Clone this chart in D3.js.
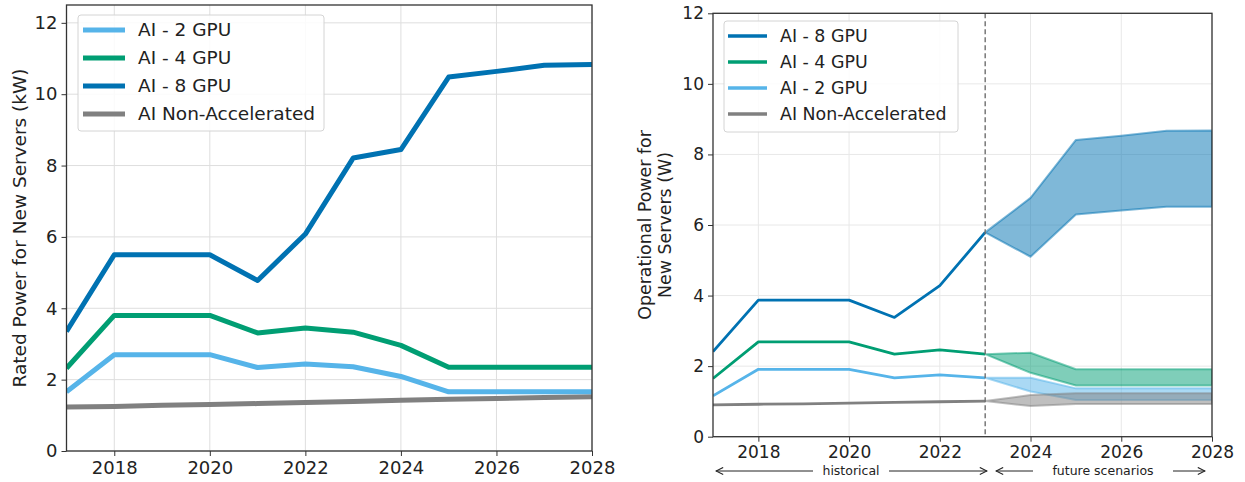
<!DOCTYPE html>
<html>
<head>
<meta charset="utf-8">
<script src="https://cdn.jsdelivr.net/npm/d3@7"></script>
<style>
  body { margin: 0; background: #fff; }
  text { font-family: "DejaVu Sans", sans-serif; fill: #222; }
</style>
</head>
<body>
<script>
// Width and height
var w = 1245;
var h = 482;

// data, left panel (rated power, kW)
var years = [2017, 2018, 2019, 2020, 2021, 2022, 2023, 2024, 2025, 2026, 2027, 2028];
var ratedGpu2 = [1.66, 2.70, 2.70, 2.70, 2.34, 2.44, 2.36, 2.09, 1.66, 1.66, 1.66, 1.66];
var ratedGpu4 = [2.32, 3.80, 3.80, 3.80, 3.31, 3.45, 3.33, 2.96, 2.35, 2.35, 2.35, 2.35];
var ratedGpu8 = [3.35, 5.50, 5.50, 5.50, 4.78, 6.08, 8.21, 8.45, 10.48, 10.64, 10.81, 10.83];
var ratedNonAcc = [1.23, 1.25, 1.28, 1.30, 1.33, 1.36, 1.39, 1.42, 1.45, 1.47, 1.50, 1.52];

// data, right panel (operational power)
var histYears = [2017, 2018, 2019, 2020, 2021, 2022, 2023];
var opGpu8 = [2.41, 3.87, 3.87, 3.87, 3.38, 4.28, 5.79];
var opGpu4 = [1.65, 2.69, 2.69, 2.69, 2.34, 2.46, 2.34];
var opGpu2 = [1.16, 1.91, 1.91, 1.91, 1.67, 1.75, 1.67];
var opNonAcc = [0.90, 0.92, 0.93, 0.95, 0.97, 0.99, 1.01];

var futureYears = [2023, 2024, 2025, 2026, 2027, 2028];
var opGpu8High = [5.79, 6.77, 8.41, 8.53, 8.67, 8.68];
var opGpu8Low = [5.79, 5.10, 6.30, 6.41, 6.52, 6.52];
var opGpu4High = [2.34, 2.38, 1.91, 1.91, 1.91, 1.91];
var opGpu4Low = [2.34, 1.81, 1.45, 1.45, 1.45, 1.45];
var opGpu2High = [1.67, 1.67, 1.37, 1.37, 1.37, 1.37];
var opGpu2Low = [1.67, 1.28, 1.04, 1.04, 1.04, 1.04];
var opNonAccHigh = [1.01, 1.18, 1.23, 1.23, 1.23, 1.23];
var opNonAccLow = [1.01, 0.87, 0.93, 0.93, 0.93, 0.93];

var xTicks = [2018, 2020, 2022, 2024, 2026, 2028];
var yTicks = [0, 2, 4, 6, 8, 10, 12];

var colors = {g2: "#56B4E9", g4: "#009E73", g8: "#0072B2", na: "#808080"};

var svg = d3.select("body")
            .append("svg")
            .attr("width", w)
            .attr("height", h);

function drawAxes(g, x, y, fs, tickLabelDy, gridColor) {
    var x0 = x.range()[0], x1 = x.range()[1];
    var y0 = y.range()[0], y1 = y.range()[1];
    // grid
    g.append("g").selectAll("line").data(xTicks).enter().append("line")
        .attr("x1", function(d) { return x(d); }).attr("x2", function(d) { return x(d); })
        .attr("y1", y0).attr("y2", y1)
        .attr("stroke", gridColor).attr("stroke-width", 1);
    g.append("g").selectAll("line").data(yTicks).enter().append("line")
        .attr("x1", x0).attr("x2", x1)
        .attr("y1", function(d) { return y(d); }).attr("y2", function(d) { return y(d); })
        .attr("stroke", gridColor).attr("stroke-width", 1);

    var xAxis = g.append("g").attr("transform", "translate(0," + y0 + ")")
        .call(d3.axisBottom(x).tickValues(xTicks).tickFormat(d3.format("d")).tickSize(5).tickPadding(tickLabelDy));
    var yAxis = g.append("g").attr("transform", "translate(" + x0 + ",0)")
        .call(d3.axisLeft(y).tickValues(yTicks).tickSize(5).tickPadding(4));
    [xAxis, yAxis].forEach(function(a) {
        a.select(".domain").remove();
        a.selectAll(".tick line").attr("stroke", "#333");
        a.selectAll(".tick text").style("font-size", fs + "px").attr("fill", "#222")
            .style("font-family", "DejaVu Sans, sans-serif");
    });
}

function drawFrame(g, x, y) {
    g.append("rect")
        .attr("x", x.range()[0]).attr("y", y.range()[1])
        .attr("width", x.range()[1] - x.range()[0])
        .attr("height", y.range()[0] - y.range()[1])
        .attr("fill", "none").attr("stroke", "#333").attr("stroke-width", 1.3);
}

function drawLegend(g, box, rows, fs, lw) {
    g.append("rect")
        .attr("x", box.x).attr("y", box.y).attr("width", box.w).attr("height", box.h)
        .attr("rx", 3).attr("fill", "#fff").attr("fill-opacity", 0.85)
        .attr("stroke", "#d4d4d4").attr("stroke-width", 1);
    var items = g.selectAll("g.leg").data(rows).enter().append("g").classed("leg", true)
        .attr("transform", function(d, i) { return "translate(0," + (box.row0 + i * box.step) + ")"; });
    items.append("line")
        .attr("x1", box.hx0).attr("x2", box.hx1).attr("y1", 0).attr("y2", 0)
        .attr("stroke", function(d) { return d.color; }).attr("stroke-width", lw);
    items.append("text")
        .attr("x", box.tx).attr("y", 0).attr("dy", "0.35em")
        .style("font-size", fs + "px")
        .text(function(d) { return d.name; });
}

// ---------- left panel ----------
var xL = d3.scaleLinear().domain([2017, 2028]).range([66.5, 592]);
var yL = d3.scaleLinear().domain([0, 12.5]).range([451, 5]);
var left = svg.append("g");
drawAxes(left, xL, yL, 18, 5, "#dedede");

var leftSeries = [
    {name: "AI Non-Accelerated", color: colors.na, vals: ratedNonAcc},
    {name: "AI - 2 GPU", color: colors.g2, vals: ratedGpu2},
    {name: "AI - 4 GPU", color: colors.g4, vals: ratedGpu4},
    {name: "AI - 8 GPU", color: colors.g8, vals: ratedGpu8}
];
var lineL = d3.line().x(function(d) { return xL(d[0]); }).y(function(d) { return yL(d[1]); });
svg.append("clipPath").attr("id", "clipL").append("rect")
    .attr("x", 66.5).attr("y", 5).attr("width", 592 - 66.5).attr("height", 446);
left.append("g").attr("clip-path", "url(#clipL)")
    .selectAll("path").data(leftSeries).enter().append("path")
    .attr("d", function(s) { return lineL(d3.zip(years, s.vals)); })
    .attr("fill", "none").attr("stroke", function(s) { return s.color; })
    .attr("stroke-width", 5).attr("stroke-linejoin", "round");
drawFrame(left, xL, yL);

left.append("text")
    .attr("transform", "translate(26," + ((451 + 5) / 2) + ") rotate(-90)")
    .attr("text-anchor", "middle")
    .style("font-size", "18.5px")
    .text("Rated Power for New Servers (kW)");

drawLegend(left, {x: 78, y: 15, w: 246, h: 116, row0: 30, step: 28, hx0: 83, hx1: 125, tx: 138},
    [{name: "AI - 2 GPU", color: colors.g2}, {name: "AI - 4 GPU", color: colors.g4},
     {name: "AI - 8 GPU", color: colors.g8}, {name: "AI Non-Accelerated", color: colors.na}], 18.5, 5);

// ---------- right panel ----------
var xR = d3.scaleLinear().domain([2017, 2028]).range([713, 1212]);
var yR = d3.scaleLinear().domain([0, 12]).range([436.7, 13.3]);
var right = svg.append("g");
drawAxes(right, xR, yR, 17, 4, "#e8e8e8");

svg.append("clipPath").attr("id", "clipR").append("rect")
    .attr("x", 713).attr("y", 13.3).attr("width", 1212 - 713).attr("height", 436.7 - 13.3);
var plotR = right.append("g").attr("clip-path", "url(#clipR)");

var bands = [
    {color: colors.g8, hi: opGpu8High, lo: opGpu8Low},
    {color: colors.g4, hi: opGpu4High, lo: opGpu4Low},
    {color: colors.g2, hi: opGpu2High, lo: opGpu2Low},
    {color: colors.na, hi: opNonAccHigh, lo: opNonAccLow}
];
var areaR = d3.area()
    .x(function(d) { return xR(d.yr); })
    .y0(function(d) { return yR(d.lo); })
    .y1(function(d) { return yR(d.hi); });
plotR.selectAll("path.band").data(bands).enter().append("path")
    .classed("band", true)
    .attr("d", function(b) {
        return areaR(futureYears.map(function(yr, i) { return {yr: yr, lo: b.lo[i], hi: b.hi[i]}; }));
    })
    .attr("fill", function(b) { return b.color; }).attr("fill-opacity", 0.5)
    .attr("stroke", function(b) { return b.color; }).attr("stroke-opacity", 0.5)
    .attr("stroke-width", 2).attr("stroke-linejoin", "round");

var histSeries = [
    {color: colors.na, vals: opNonAcc},
    {color: colors.g2, vals: opGpu2},
    {color: colors.g4, vals: opGpu4},
    {color: colors.g8, vals: opGpu8}
];
var lineR = d3.line().x(function(d) { return xR(d[0]); }).y(function(d) { return yR(d[1]); });
plotR.selectAll("path.hist").data(histSeries).enter().append("path")
    .classed("hist", true)
    .attr("d", function(s) { return lineR(d3.zip(histYears, s.vals)); })
    .attr("fill", "none").attr("stroke", function(s) { return s.color; })
    .attr("stroke-width", 2.8).attr("stroke-linejoin", "round");

// scenario divider
right.append("line")
    .attr("x1", xR(2023)).attr("x2", xR(2023))
    .attr("y1", yR.range()[1]).attr("y2", yR.range()[0])
    .attr("stroke", "#6e6e6e").attr("stroke-width", 1.4).attr("stroke-dasharray", "5,3");

drawFrame(right, xR, yR);

right.append("text")
    .attr("transform", "translate(651," + ((436.7 + 13.3) / 2) + ") rotate(-90)")
    .attr("text-anchor", "middle")
    .style("font-size", "17.4px")
    .text("Operational Power for");
right.append("text")
    .attr("transform", "translate(671," + ((436.7 + 13.3) / 2) + ") rotate(-90)")
    .attr("text-anchor", "middle")
    .style("font-size", "17.4px")
    .text("New Servers (W)");

drawLegend(right, {x: 724, y: 21, w: 234, h: 111, row0: 36, step: 26, hx0: 728, hx1: 767, tx: 780},
    [{name: "AI - 8 GPU", color: colors.g8}, {name: "AI - 4 GPU", color: colors.g4},
     {name: "AI - 2 GPU", color: colors.g2}, {name: "AI Non-Accelerated", color: colors.na}], 17.4, 3.5);

// period annotations under the axis
svg.append("defs").append("marker")
    .attr("id", "arr").attr("viewBox", "0 0 10 10").attr("refX", 9).attr("refY", 5)
    .attr("markerWidth", 9).attr("markerHeight", 9).attr("orient", "auto-start-reverse")
    .attr("markerUnits", "userSpaceOnUse")
    .append("path").attr("d", "M1,1 L9,5 L1,9").attr("fill", "none")
    .attr("stroke", "#222").attr("stroke-width", 1.2);

var annY = 471;
var annotations = [
    {label: "historical", x0: 716, t0: 813, t1: 889, x1: 987},
    {label: "future scenarios", x0: 996, t0: 1033, t1: 1173, x1: 1205}
];
annotations.forEach(function(a) {
    right.append("line").attr("x1", a.t0).attr("x2", a.x0).attr("y1", annY).attr("y2", annY)
        .attr("stroke", "#222").attr("stroke-width", 1).attr("marker-end", "url(#arr)");
    right.append("line").attr("x1", a.t1).attr("x2", a.x1).attr("y1", annY).attr("y2", annY)
        .attr("stroke", "#222").attr("stroke-width", 1).attr("marker-end", "url(#arr)");
    right.append("text").attr("x", (a.t0 + a.t1) / 2).attr("y", annY).attr("dy", "0.35em")
        .attr("text-anchor", "middle").style("font-size", "12.5px").text(a.label);
});
</script>
</body>
</html>
